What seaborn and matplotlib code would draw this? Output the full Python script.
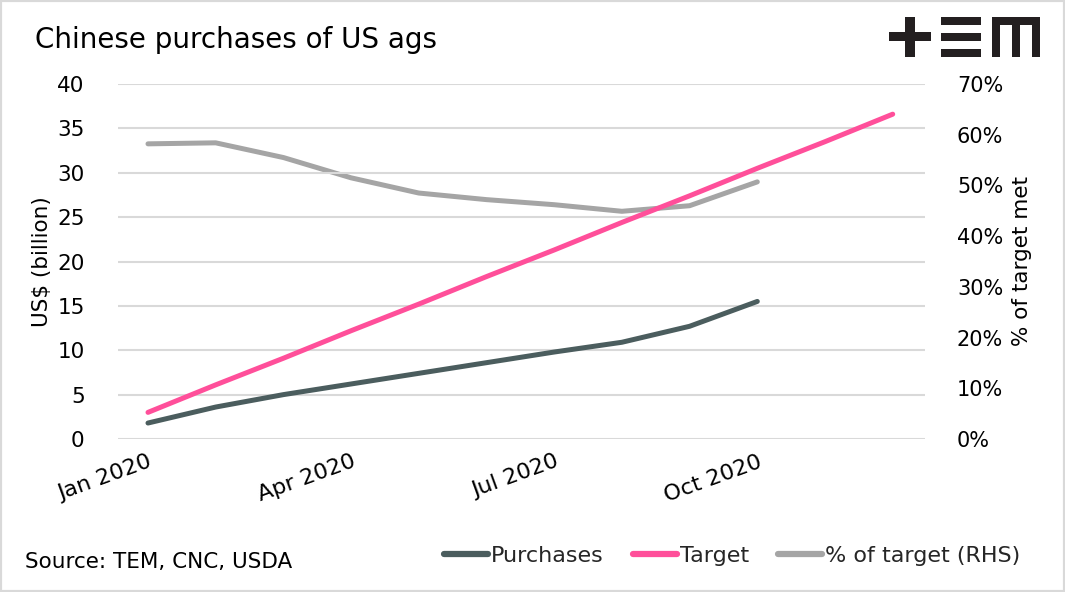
import matplotlib
matplotlib.use("Agg")
import matplotlib.pyplot as plt
import seaborn as sns
import pandas as pd
import numpy as np
from matplotlib.patches import Rectangle
from matplotlib.lines import Line2D
from matplotlib.ticker import FuncFormatter, MultipleLocator

months = ["Jan 2020", "Feb 2020", "Mar 2020", "Apr 2020", "May 2020", "Jun 2020",
          "Jul 2020", "Aug 2020", "Sep 2020", "Oct 2020", "Nov 2020", "Dec 2020"]
purchases = [1.8, 3.6, 5.0, 6.2, 7.4, 8.6, 9.8, 10.9, 12.7, 15.5]
target = [3.0, 6.1, 9.1, 12.2, 15.2, 18.3, 21.3, 24.4, 27.4, 30.5, 33.5, 36.6]
pct_target = [58.2, 58.4, 55.5, 51.5, 48.5, 47.2, 46.2, 44.9, 46.0, 50.7]
tick_labels = ["Jan 2020", "Apr 2020", "Jul 2020", "Oct 2020"]

C_PUR = "#4b5d5e"
C_TGT = "#ff4f9a"
C_PCT = "#a5a5a5"
C_GRID = "#d9d9d9"

sns.set_theme(style="white")
plt.rcParams["font.family"] = ["DejaVu Sans"]

df_p = pd.DataFrame({"x": np.arange(len(purchases)), "y": purchases})
df_t = pd.DataFrame({"x": np.arange(len(target)), "y": target})
df_r = pd.DataFrame({"x": np.arange(len(pct_target)), "y": pct_target})

fig = plt.figure(figsize=(10.65, 5.92), dpi=100)
W, H = 1065, 592
ax = fig.add_axes([118 / W, 1 - 439 / H, (925 - 118) / W, (439 - 84) / H])
ax2 = ax.twinx()

lw = 3.6
sns.lineplot(data=df_t, x="x", y="y", ax=ax, color=C_TGT, lw=lw,
             solid_capstyle="round", zorder=3)
sns.lineplot(data=df_p, x="x", y="y", ax=ax, color=C_PUR, lw=lw,
             solid_capstyle="round", zorder=4)
sns.lineplot(data=df_r, x="x", y="y", ax=ax2, color=C_PCT, lw=lw,
             solid_capstyle="round", zorder=2)

ax.set_ylim(0, 40)
ax2.set_ylim(0, 70)
ax.set_xlim(-0.443, 11.477)
ax.yaxis.set_major_locator(MultipleLocator(5))
ax2.yaxis.set_major_locator(MultipleLocator(10))
ax2.yaxis.set_major_formatter(FuncFormatter(lambda v, p: f"{v:.0f}%"))
ax.grid(axis="y", color=C_GRID, lw=1.5)
ax.grid(axis="x", visible=False)
ax2.grid(False)
ax.set_zorder(ax2.get_zorder() + 1)
ax.patch.set_visible(False)

ax.set_xticks([months.index(t) for t in tick_labels])
ax.set_xticklabels(tick_labels, rotation=20, ha="right", rotation_mode="anchor")
for a in (ax, ax2):
    for s in a.spines.values():
        s.set_visible(False)
    a.set_xlabel("")
    a.set_ylabel("")
ax.tick_params(axis="x", length=0, pad=9, labelsize=16, colors="black")
ax.tick_params(axis="y", length=0, pad=24, labelsize=15.5, colors="black")
ax2.tick_params(axis="y", length=0, pad=23, labelsize=15, colors="black")

ax.set_ylabel("US$ (billion)", fontsize=15.5, color="black", labelpad=4)
ax2.set_ylabel("% of target met", fontsize=15.5, color="black", rotation=90,
               labelpad=6)

fig.text(35 / W, 1 - 40 / H, "Chinese purchases of US ags", fontsize=20,
         va="center", ha="left", color="black")
fig.text(25 / W, 1 - 562 / H, "Source: TEM, CNC, USDA", fontsize=15.5,
         va="center", ha="left", color="black")

handles = [Line2D([], [], color=C_PUR, lw=4.5, solid_capstyle="round"),
           Line2D([], [], color=C_TGT, lw=4.5, solid_capstyle="round"),
           Line2D([], [], color=C_PCT, lw=4.5, solid_capstyle="round")]
fig.legend(handles, ["Purchases", "Target", "% of target (RHS)"],
           loc="center right", bbox_to_anchor=(1040 / W, 1 - 556 / H), ncol=3,
           frameon=False, fontsize=16, handlelength=2.0, handletextpad=0.12,
           columnspacing=1.3)

# logo
def rect(x0, y0, x1, y1):
    fig.patches.append(Rectangle((x0 / W, 1 - y1 / H), (x1 - x0) / W, (y1 - y0) / H,
                                 transform=fig.transFigure, color="#231f20",
                                 lw=0, figure=fig))
rect(889, 32, 931, 41)
rect(905, 17, 915, 57)
rect(941, 17, 981, 25)
rect(941, 33, 981, 41)
rect(941, 49, 981, 57)
rect(992, 17, 1040, 25)
rect(992, 17, 1000, 57)
rect(1012, 17, 1020, 57)
rect(1032, 17, 1040, 57)

# frame
fig.patches.append(Rectangle((0, 0), 1, 1, transform=fig.transFigure, fill=False,
                             edgecolor="#d9d9d9", lw=3, figure=fig))

fig.savefig("out.png", dpi=100)
